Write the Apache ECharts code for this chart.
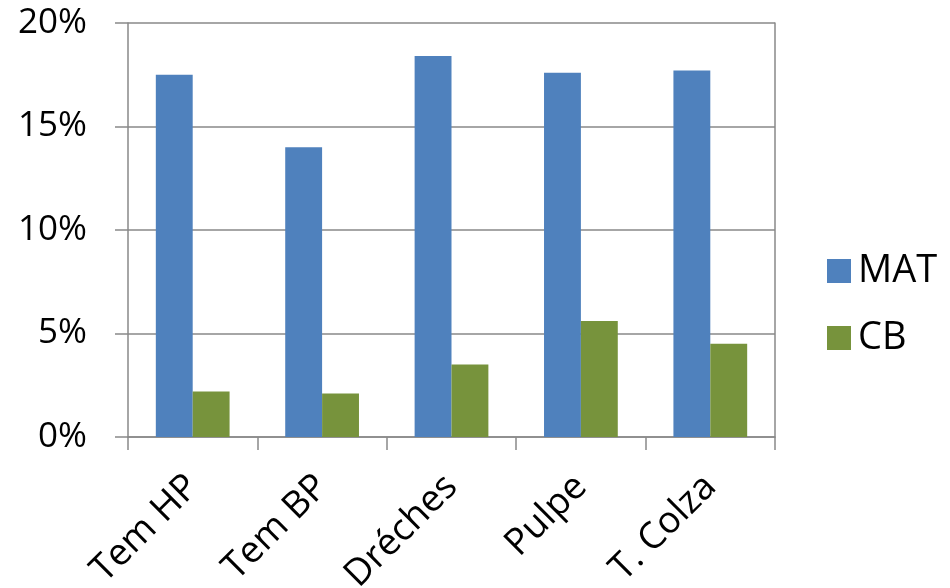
<!DOCTYPE html>
<html><head><meta charset="utf-8">
<script src="https://cdn.jsdelivr.net/npm/echarts@6/dist/echarts.min.js"></script>
<style>html,body{margin:0;padding:0;background:#fff}#c{width:950px;height:588px}</style>
</head><body><div id="c"></div>
<script>
const categories = ['Tem HP', 'Tem BP', 'Dréches', 'Pulpe', 'T. Colza'];
const matValues = [17.5, 14.0, 18.4, 17.6, 17.7];
const cbValues = [2.2, 2.1, 3.5, 5.6, 4.5];
const seriesNames = ['MAT', 'CB'];

const chart = echarts.init(document.getElementById('c'));
const gray = '#898989';
chart.setOption({
  animation: false,
  textStyle: { fontFamily: 'Open Sans' },
  grid: { left: 128, right: 175, top: 23, bottom: 151, containLabel: false, outerBoundsMode: 'none' },
  legend: {
    orient: 'vertical', left: 822, top: 246,
    itemWidth: 24, itemHeight: 24, itemGap: 27,
    icon: 'rect',
    textStyle: { fontSize: 38, color: '#000', lineHeight: 40, padding: [0, 0, 0, 2] },
    data: seriesNames
  },
  xAxis: {
    type: 'category', data: categories,
    axisLine: { lineStyle: { color: gray, width: 1.5 } },
    axisTick: { show: true, length: 13, lineStyle: { color: gray, width: 1.5 } },
    axisLabel: { rotate: 45, fontSize: 37, color: '#000', margin: 44, interval: 0 }
  },
  yAxis: [{
    type: 'value', min: 0, max: 20, interval: 5,
    axisLine: { show: true, lineStyle: { color: gray, width: 1.5 } },
    axisTick: { show: true, length: 13, lineStyle: { color: gray, width: 1.5 } },
    splitLine: { lineStyle: { color: gray, width: 1.5 } },
    axisLabel: { formatter: v => v + '%', fontSize: 35, color: '#000', margin: 41 }
  }, {
    type: 'value', min: 0, max: 20, interval: 5, position: 'right',
    axisLine: { show: true, lineStyle: { color: gray, width: 1.5 } },
    axisTick: { show: false }, axisLabel: { show: false }, splitLine: { show: false }
  }],
  series: [
    { name: seriesNames[0], type: 'bar', data: matValues, barGap: '0%', barCategoryGap: '43%',
      itemStyle: { color: '#4F81BD' } },
    { name: seriesNames[1], type: 'bar', data: cbValues, barGap: '0%', barCategoryGap: '43%',
      itemStyle: { color: '#77933C' } }
  ]
});
</script></body></html>
